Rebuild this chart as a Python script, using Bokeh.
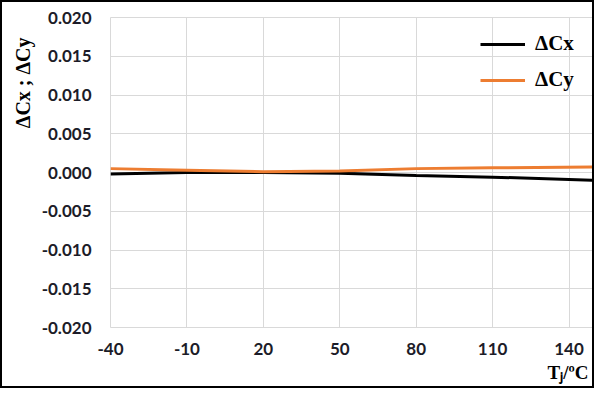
from bokeh.plotting import figure
from bokeh.models import (Range1d, FixedTicker, CustomJSTickFormatter, Legend, LegendItem, Title)
from bokeh.embed import file_html
from bokeh.resources import INLINE

# data
tj = [-40, -10, 20, 50, 80, 110, 150]
dcx = [-0.0002, 0.0, 0.0, -0.0001, -0.0004, -0.0006, -0.0010]
dcy = [0.0005, 0.0003, 0.0001, 0.0002, 0.0005, 0.0006, 0.0007]
x_ticks = [-40, -10, 20, 50, 80, 110, 140]
y_ticks = [-0.020, -0.015, -0.010, -0.005, 0.0, 0.005, 0.010, 0.015, 0.020]
series_names = ["\u0394Cx", "\u0394Cy"]
colors = ["#000000", "#ed7d31"]
y_title = "\u0394Cx ; \u0394Cy"
x_title = "T\u2c7c/\u00baC"

p = figure(width=594, height=388, output_backend="svg", toolbar_location=None,
           x_range=Range1d(-40, 150), y_range=Range1d(-0.02, 0.02),
           min_border_left=108, min_border_right=2, min_border_top=15, min_border_bottom=63)
p.styles = {"border": "2px solid black"}
p.outline_line_color = "#d9d9d9"
p.outline_line_width = 1

for ax in (p.xaxis[0], p.yaxis[0]):
    ax.axis_line_color = None
    ax.major_tick_line_color = None
    ax.minor_tick_line_color = None
    ax.major_tick_out = 0
    ax.major_label_text_font = "Lato"
    ax.major_label_text_font_style = "bold"
    ax.major_label_text_font_size = "17px"
    ax.major_label_text_color = "#1c1c28"

p.xaxis.ticker = FixedTicker(ticks=x_ticks)
p.yaxis.ticker = FixedTicker(ticks=y_ticks)
p.yaxis.formatter = CustomJSTickFormatter(code="return tick.toFixed(3);")
p.xaxis.formatter = CustomJSTickFormatter(code="return tick.toFixed(0);")
p.xaxis.major_label_standoff = 15
p.yaxis.major_label_standoff = 19

p.xgrid.ticker = FixedTicker(ticks=x_ticks)
p.ygrid.ticker = FixedTicker(ticks=y_ticks)
p.xgrid.grid_line_color = "#d9d9d9"
p.ygrid.grid_line_color = "#d9d9d9"

r1 = p.line(tj, dcx, line_color=colors[0], line_width=3)
r2 = p.line(tj, dcy, line_color=colors[1], line_width=3)

legend = Legend(items=[LegendItem(label=series_names[0], renderers=[r1]),
                       LegendItem(label=series_names[1], renderers=[r2])],
                location=(370, 235), padding=0, margin=0, spacing=11,
                glyph_width=45, glyph_height=24, label_height=24, label_standoff=10,
                border_line_color=None, background_fill_alpha=0,
                label_text_font="Liberation Serif", label_text_font_style="bold",
                label_text_font_size="21px", label_text_color="#000000")
p.add_layout(legend, "center")

yt = Title(text=y_title, align="right", offset=20, standoff=6, vertical_align="top",
           text_font="Liberation Serif", text_font_style="bold", text_font_size="20px",
           text_color="#000000")
p.add_layout(yt, "left")

xt = Title(text=x_title, align="right", offset=6, standoff=4,
           text_font="Liberation Serif", text_font_style="bold", text_font_size="19px",
           text_color="#000000")
p.add_layout(xt, "below")

open("out.html", "w").write(file_html(p, INLINE))
